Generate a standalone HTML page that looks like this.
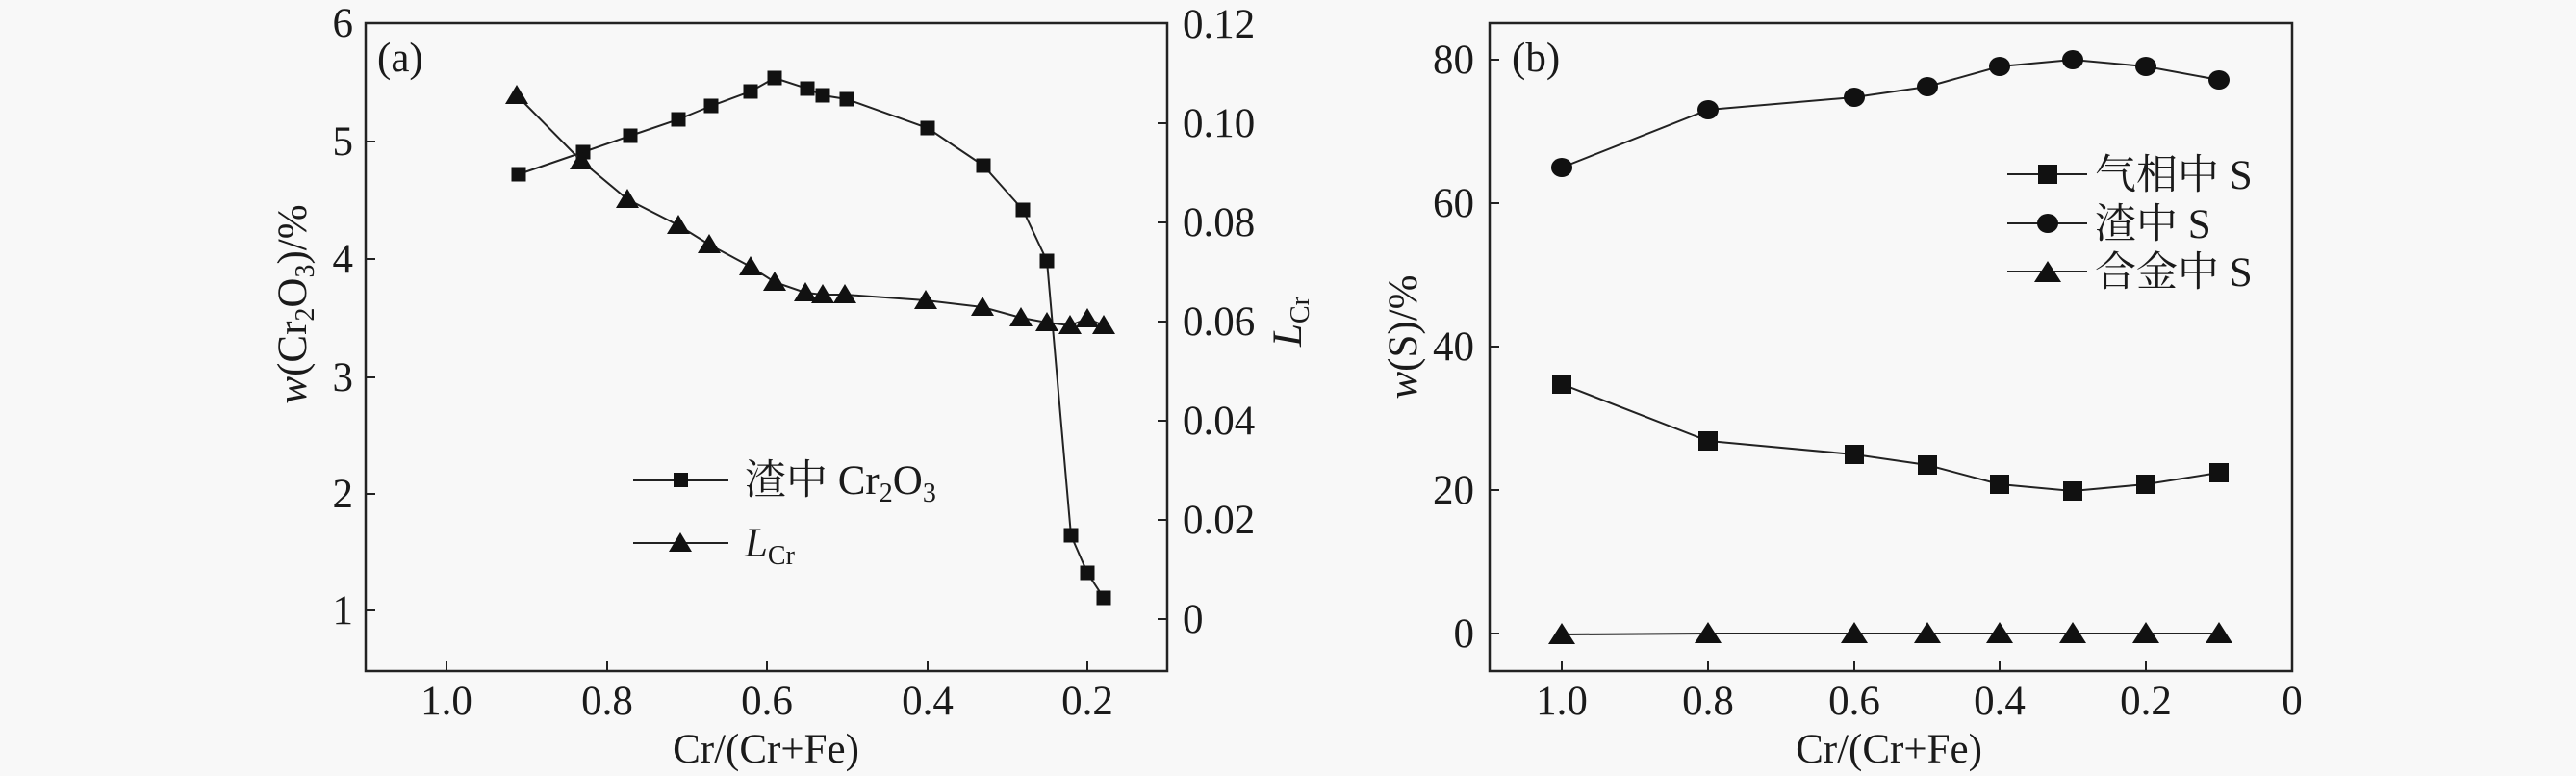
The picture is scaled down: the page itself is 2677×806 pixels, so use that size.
<!DOCTYPE html>
<html><head><meta charset="utf-8"><style>
html,body{margin:0;padding:0;background:#f8f8f8;}
svg{display:block;}
text{font-family:"Liberation Serif","Noto Serif CJK SC","Noto Sans CJK SC",serif;fill:#1a1a1a;}
</style></head><body>
<svg width="2677" height="806" viewBox="0 0 2677 806" xmlns="http://www.w3.org/2000/svg">
<rect width="2677" height="806" fill="#f8f8f8"/>
<!-- Panel a -->
<rect x="380" y="24" width="833" height="673" fill="none" stroke="#222" stroke-width="2.5"/>
<g stroke="#222" stroke-width="2">
<path d="M380 634h10M380 513h10M380 392h10M380 269h10M380 147h10"/>
<path d="M1213 643h-10M1213 540h-10M1213 437h-10M1213 334h-10M1213 231h-10M1213 128h-10"/>
<path d="M464 697v-10M631 697v-10M797 697v-10M964 697v-10M1130 697v-10"/>
</g>
<g font-size="43" text-anchor="end">
<text x="367" y="38">6</text><text x="367" y="161">5</text><text x="367" y="283">4</text>
<text x="367" y="406">3</text><text x="367" y="527">2</text><text x="367" y="648">1</text>
</g>
<g font-size="43" text-anchor="start" style="fill:#666">
<text x="1229" y="39">0.12</text><text x="1229" y="142">0.10</text><text x="1229" y="245">0.08</text>
<text x="1229" y="348">0.06</text><text x="1229" y="451">0.04</text><text x="1229" y="554">0.02</text>
<text x="1229" y="657">0</text>
</g>
<g font-size="43" text-anchor="middle">
<text x="464" y="742">1.0</text><text x="631" y="742">0.8</text><text x="797" y="742">0.6</text>
<text x="964" y="742">0.4</text><text x="1130" y="742">0.2</text>
<text x="796" y="792">Cr/(Cr+Fe)</text>
</g>
<text x="392" y="74" font-size="43">(a)</text>
<text transform="translate(318,316) rotate(-90)" font-size="43" text-anchor="middle"><tspan font-style="italic">w</tspan>(Cr<tspan font-size="28" dy="8">2</tspan><tspan dy="-8">O</tspan><tspan font-size="28" dy="8">3</tspan><tspan dy="-8">)/%</tspan></text>
<text transform="translate(1352,334) rotate(-90)" font-size="43" text-anchor="middle"><tspan font-style="italic">L</tspan><tspan font-size="28" dy="8">Cr</tspan></text>
<polyline fill="none" stroke="#222" stroke-width="2" points="539,181 606,158 655,141 705,124 739,110 780,95 805,81 839,92 855,99 880,103 964,133 1022,172 1063,218 1088,271 1113,556 1130,595 1147,621"/>
<g fill="#111">
<rect x="531.5" y="173.5" width="15" height="15"/><rect x="598.5" y="150.5" width="15" height="15"/><rect x="647.5" y="133.5" width="15" height="15"/><rect x="697.5" y="116.5" width="15" height="15"/><rect x="731.5" y="102.5" width="15" height="15"/><rect x="772.5" y="87.5" width="15" height="15"/><rect x="797.5" y="73.5" width="15" height="15"/><rect x="831.5" y="84.5" width="15" height="15"/><rect x="847.5" y="91.5" width="15" height="15"/><rect x="872.5" y="95.5" width="15" height="15"/><rect x="956.5" y="125.5" width="15" height="15"/><rect x="1014.5" y="164.5" width="15" height="15"/><rect x="1055.5" y="210.5" width="15" height="15"/><rect x="1080.5" y="263.5" width="15" height="15"/><rect x="1105.5" y="548.5" width="15" height="15"/><rect x="1122.5" y="587.5" width="15" height="15"/><rect x="1139.5" y="613.5" width="15" height="15"/>
</g>
<polyline fill="none" stroke="#222" stroke-width="2" points="537,99 604,167 652,207 705,234 737,254 780,277 805,293 837,304 855,306 878,306 962,312 1021,319 1061,330 1088,335 1112,338 1130,331 1147,338"/>
<g fill="#111" id="tria">
<path d="M537 88l12 20h-24z"/><path d="M604 156l12 20h-24z"/><path d="M652 196l12 20h-24z"/><path d="M705 223l12 20h-24z"/><path d="M737 243l12 20h-24z"/><path d="M780 266l12 20h-24z"/><path d="M805 282l12 20h-24z"/><path d="M837 293l12 20h-24z"/><path d="M855 295l12 20h-24z"/><path d="M878 295l12 20h-24z"/><path d="M962 301l12 20h-24z"/><path d="M1021 308l12 20h-24z"/><path d="M1061 319l12 20h-24z"/><path d="M1088 324l12 20h-24z"/><path d="M1112 327l12 20h-24z"/><path d="M1130 320l12 20h-24z"/><path d="M1147 327l12 20h-24z"/>
</g>
<!-- legend a -->
<path d="M658 499h99M658 564h99" stroke="#222" stroke-width="2"/>
<rect x="700" y="491" width="15" height="15" fill="#111"/>
<path d="M707 553l12 20h-24z" fill="#111"/>
<text x="774" y="513" font-size="43">渣中 Cr<tspan font-size="28" dy="8">2</tspan><tspan dy="-8">O</tspan><tspan font-size="28" dy="8">3</tspan></text>
<text x="774" y="578" font-size="43"><tspan font-style="italic">L</tspan><tspan font-size="28" dy="8">Cr</tspan></text>

<!-- Panel b -->
<rect x="1548" y="24" width="834" height="673" fill="none" stroke="#222" stroke-width="2.5"/>
<g stroke="#222" stroke-width="2">
<path d="M1548 658h10M1548 509h10M1548 360h10M1548 211h10M1548 62h10"/>
<path d="M1623 697v-10M1775 697v-10M1927 697v-10M2078 697v-10M2230 697v-10"/>
</g>
<g font-size="43" text-anchor="end">
<text x="1532" y="76">80</text><text x="1532" y="225">60</text><text x="1532" y="374">40</text>
<text x="1532" y="523">20</text><text x="1532" y="672">0</text>
</g>
<g font-size="43" text-anchor="middle">
<text x="1623" y="742">1.0</text><text x="1775" y="742">0.8</text><text x="1927" y="742">0.6</text>
<text x="2078" y="742">0.4</text><text x="2230" y="742">0.2</text><text x="2382" y="742">0</text>
<text x="1963" y="792">Cr/(Cr+Fe)</text>
</g>
<text x="1571" y="74" font-size="43">(b)</text>
<text transform="translate(1472,350) rotate(-90)" font-size="43" text-anchor="middle"><tspan font-style="italic">w</tspan>(S)/%</text>
<polyline fill="none" stroke="#222" stroke-width="2" points="1623,174 1775,114 1927,101 2003,90 2078,69 2154,62 2230,69 2306,83"/>
<g fill="#111">
<ellipse cx="1623" cy="174" rx="11" ry="10"/><ellipse cx="1775" cy="114" rx="11" ry="10"/><ellipse cx="1927" cy="101" rx="11" ry="10"/><ellipse cx="2003" cy="90" rx="11" ry="10"/><ellipse cx="2078" cy="69" rx="11" ry="10"/><ellipse cx="2154" cy="62" rx="11" ry="10"/><ellipse cx="2230" cy="69" rx="11" ry="10"/><ellipse cx="2306" cy="83" rx="11" ry="10"/>
</g>
<polyline fill="none" stroke="#222" stroke-width="2" points="1623,399 1775,458 1927,472 2003,483 2078,503 2154,510 2230,503 2306,491"/>
<g fill="#111">
<rect x="1613" y="389" width="20" height="20"/><rect x="1765" y="448" width="20" height="20"/><rect x="1917" y="462" width="20" height="20"/><rect x="1993" y="473" width="20" height="20"/><rect x="2068" y="493" width="20" height="20"/><rect x="2144" y="500" width="20" height="20"/><rect x="2220" y="493" width="20" height="20"/><rect x="2296" y="481" width="20" height="20"/>
</g>
<polyline fill="none" stroke="#222" stroke-width="2" points="1623,659 1775,658 1927,658 2003,658 2078,658 2154,658 2230,658 2306,658"/>
<g fill="#111">
<path d="M1623 647l14 22h-28z"/><path d="M1775 646l14 22h-28z"/><path d="M1927 646l14 22h-28z"/><path d="M2003 646l14 22h-28z"/><path d="M2078 646l14 22h-28z"/><path d="M2154 646l14 22h-28z"/><path d="M2230 646l14 22h-28z"/><path d="M2306 646l14 22h-28z"/>
</g>
<!-- legend b -->
<path d="M2086 181h83M2086 232h83M2086 282h83" stroke="#222" stroke-width="2"/>
<rect x="2118" y="171" width="20" height="20" fill="#111"/>
<ellipse cx="2128" cy="232" rx="11" ry="10" fill="#111"/>
<path d="M2128 271l14 22h-28z" fill="#111"/>
<g font-size="43">
<text x="2177" y="196">气相中 S</text>
<text x="2177" y="247">渣中 S</text>
<text x="2177" y="297">合金中 S</text>
</g>
</svg>
</body></html>
